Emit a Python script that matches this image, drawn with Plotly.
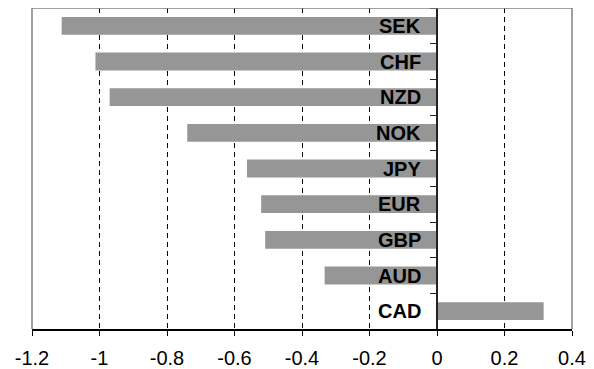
import plotly.graph_objects as go

currencies = ["SEK", "CHF", "NZD", "NOK", "JPY", "EUR", "GBP", "AUD", "CAD"]
values = [-1.112, -1.012, -0.970, -0.740, -0.563, -0.521, -0.509, -0.333, 0.316]
x_ticks = [-1.2, -1.0, -0.8, -0.6, -0.4, -0.2, 0.0, 0.2, 0.4]
x_tick_labels = ["-1.2", "-1", "-0.8", "-0.6", "-0.4", "-0.2", "0", "0.2", "0.4"]

FONT = "Liberation Sans, Arial, sans-serif"

fig = go.Figure()
fig.add_trace(go.Bar(
    y=currencies, x=values, orientation="h",
    marker=dict(color="#969696", line=dict(width=0)),
    width=0.5, showlegend=False, hoverinfo="skip",
))

for c in currencies:
    fig.add_annotation(
        x=0, y=c, xref="x", yref="y", text="<b>%s</b>" % c,
        showarrow=False, xanchor="right", yanchor="middle", xshift=-14,
        font=dict(family=FONT, size=20, color="black"),
    )

# frame (gray) left, top, right
fig.add_shape(type="line", xref="paper", yref="paper", x0=0, x1=0, y0=0, y1=1,
              line=dict(color="#808080", width=1.5), layer="above")
fig.add_shape(type="line", xref="paper", yref="paper", x0=0, x1=1, y0=1, y1=1,
              line=dict(color="#808080", width=1.5), layer="above")
fig.add_shape(type="line", xref="paper", yref="paper", x0=1, x1=1, y0=0, y1=1,
              line=dict(color="#808080", width=1.5), layer="above")

fig.update_layout(
    width=586, height=361,
    margin=dict(l=24, r=22, t=0, b=40, pad=0, autoexpand=False),
    paper_bgcolor="white", plot_bgcolor="white",
    bargap=0.5,
    font=dict(family=FONT, size=20, color="black"),
    xaxis=dict(
        range=[-1.2, 0.4], tickvals=x_ticks, ticktext=x_tick_labels,
        showgrid=True, gridcolor="black", gridwidth=1, griddash="5px,4px",
        zeroline=False, showline=True, linecolor="black", linewidth=1.5,
        ticks="outside", ticklen=5, tickcolor="black", tickwidth=1,
        ticklabelstandoff=5, automargin=False,
        tickfont=dict(family=FONT, size=20, color="black"),
        fixedrange=True,
    ),
    yaxis=dict(
        type="category", categoryorder="array", categoryarray=currencies,
        autorange=False, range=[8.5, -0.5],
        anchor="free", position=0.75, automargin=False,
        showline=True, linecolor="#222222", linewidth=1.5,
        ticks="outside", tickson="boundaries", ticklen=6, tickcolor="#222222",
        showticklabels=False, showgrid=False, zeroline=False,
        fixedrange=True,
    ),
)

fig.write_html("out.html")
